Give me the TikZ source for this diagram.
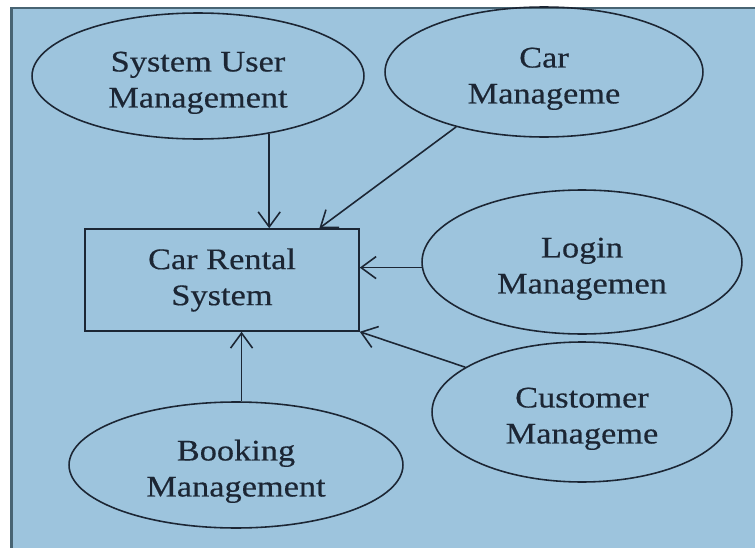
\documentclass[tikz,border=0pt]{standalone}
\usepackage{fontspec}
\setmainfont{Liberation Serif}[FakeStretch=1.15, FakeBold=0.4]
\usetikzlibrary{shapes.geometric, arrows.meta, calc}
\definecolor{bgblue}{RGB}{157, 196, 221}
\definecolor{frameblue}{RGB}{72, 100, 115}
\definecolor{inkblue}{RGB}{28, 38, 52}
\newcommand\ucstrut{\rule{0pt}{19pt}}

\begin{document}
\begin{tikzpicture}[
  x=0.02cm, y=-0.02cm,
  usecase/.style={draw=inkblue, ellipse, line width=0.9pt, inner sep=0pt,
                  align=center, text=inkblue, font=\fontsize{17}{20.5}\selectfont},
  sysbox/.style={draw=inkblue, rectangle, line width=0.9pt, inner sep=0pt,
                 minimum width=5.48cm, minimum height=2.04cm,
                 align=center, text=inkblue, font=\fontsize{17}{20.5}\selectfont},
  arr/.style={draw=inkblue, line width=0.9pt, -{Straight Barb[length=3mm, width=4.4mm]}},
]
% background and frame
\useasboundingbox (0,0) rectangle (755,548);
\fill[white] (0,0) rectangle (755,548);
\fill[bgblue] (11,8) rectangle (755,548);
\draw[frameblue, line width=1.6pt] (11.5,548) -- (11.5,8) -- (755,8);

% central system
\node[sysbox] (sys) at (222,280) {Car Rental\\System};

% use cases
\node[usecase, minimum width=6.64cm, minimum height=2.52cm] (user) at (198,76) {\ucstrut System User\\Management};
\node[usecase, minimum width=6.36cm, minimum height=2.6cm] (car) at (544,72) {\ucstrut Car\\Manageme};
\node[usecase, minimum width=6.4cm, minimum height=2.88cm] (login) at (582,262) {\ucstrut Login\\Managemen};
\node[usecase, minimum width=6.0cm, minimum height=2.8cm] (cust) at (582,412) {\ucstrut Customer\\Manageme};
\node[usecase, minimum width=6.68cm, minimum height=2.52cm] (book) at (236,465) {\ucstrut Booking\\Management};

% connectors
\draw[arr] (user.-39) -- (user.-39 |- sys.north);
\draw[arr] (car.-148) -- (sys.28.5);
\draw[arr] (login.182) -- (sys.east |- login.182);
\draw[arr] (cust.159) -- (sys.south east);
\draw[arr] (book.85) -- (book.85 |- sys.south);
\end{tikzpicture}
\end{document}
